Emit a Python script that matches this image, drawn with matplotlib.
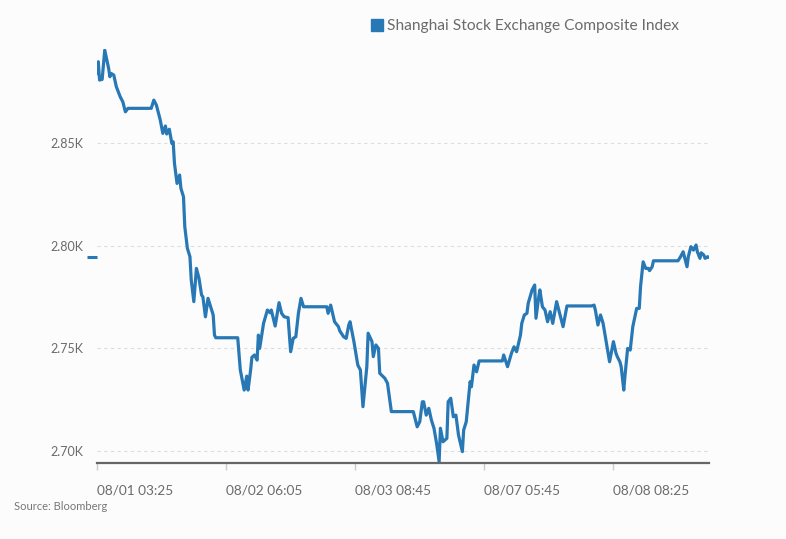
import matplotlib
matplotlib.use("Agg")
from matplotlib import pyplot as plt
from matplotlib.lines import Line2D
from matplotlib.ticker import FuncFormatter

plt.rcParams['font.family'] = ['Lato', 'DejaVu Sans']

# sample index along the (gapless) trading-time axis
sample_idx = [
    0, 1, 2, 4, 6, 9, 10, 11, 13, 15, 18, 20, 22, 24, 42, 44, 46, 49, 51, 53,
    54, 56, 58, 59, 60, 62, 64, 65, 67, 68, 70, 72, 73, 75, 77, 79, 81, 82, 84, 86,
    88, 90, 91, 92, 109, 111, 114, 116, 117, 119, 120, 122, 124, 125, 126, 129, 132, 134, 135, 138,
    141, 143, 145, 148, 150, 152, 154, 156, 158, 160, 178, 179, 181, 184, 187, 188, 191, 193, 195, 196,
    199, 202, 204, 206, 209, 210, 213, 214, 216, 218, 219, 223, 225, 228, 245, 248, 250, 252, 253, 255,
    257, 259, 261, 263, 265, 266, 268, 271, 272, 274, 276, 278, 280, 283, 284, 286, 289, 290, 292, 294,
    296, 314, 315, 318, 321, 323, 325, 328, 329, 331, 333, 334, 337, 339, 340, 342, 343, 345, 347, 349,
    351, 353, 356, 358, 360, 361, 364, 383, 385, 386, 388, 390, 392, 395, 397, 400, 402, 403, 405, 406,
    408, 409, 411, 413, 415, 418, 420, 421, 423, 425, 427, 428, 430, 431, 450, 452, 454, 457, 458, 460,
    462, 464, 465, 467, 468, 470, 471, 473, 474,
]
index_values = [
    2884.0, 2889.7, 2880.8, 2881.1, 2895.4, 2886.5, 2882.4, 2884.0, 2883.2, 2877.5, 2872.6, 2870.2, 2865.3, 2867.0, 2867.0, 2871.0, 2868.6, 2861.3, 2854.8, 2858.4,
    2854.5, 2856.8, 2849.9, 2850.7, 2840.2, 2830.4, 2834.5, 2828.0, 2823.9, 2809.3, 2798.8, 2794.7, 2783.3, 2772.8, 2789.0, 2784.2, 2776.0, 2775.2, 2765.4, 2774.4,
    2770.3, 2766.3, 2756.5, 2755.2, 2755.2, 2739.5, 2729.7, 2736.5, 2729.7, 2739.5, 2745.7, 2746.8, 2744.3, 2756.5, 2750.0, 2762.2, 2768.7, 2767.4, 2768.7, 2760.9,
    2772.3, 2767.1, 2765.4, 2765.0, 2748.4, 2754.9, 2755.7, 2767.1, 2774.4, 2770.3, 2770.3, 2767.1, 2771.1, 2763.0, 2760.6, 2758.6, 2755.7, 2754.9, 2761.4, 2763.0,
    2753.3, 2741.9, 2739.5, 2721.6, 2741.1, 2757.4, 2753.3, 2746.0, 2751.7, 2750.0, 2737.9, 2735.4, 2733.0, 2719.2, 2719.2, 2711.8, 2714.3, 2724.0, 2724.0, 2717.5,
    2720.8, 2715.1, 2711.1, 2703.8, 2694.8, 2711.1, 2704.5, 2706.2, 2724.0, 2725.7, 2716.7, 2717.5, 2707.8, 2699.7, 2710.2, 2714.3, 2733.8, 2731.3, 2741.9, 2738.6,
    2743.9, 2743.9, 2746.8, 2741.1, 2747.6, 2750.8, 2748.4, 2756.5, 2762.2, 2766.3, 2767.1, 2772.0, 2778.5, 2780.9, 2764.7, 2774.4, 2778.5, 2770.3, 2768.7, 2763.0,
    2767.9, 2762.2, 2772.8, 2767.9, 2763.0, 2760.6, 2770.7, 2770.7, 2771.1, 2768.7, 2761.4, 2766.3, 2762.2, 2750.8, 2743.5, 2753.3, 2747.6, 2746.0, 2743.5, 2741.1,
    2729.7, 2737.0, 2750.0, 2749.2, 2760.6, 2769.5, 2769.5, 2780.1, 2792.2, 2789.0, 2789.0, 2787.9, 2789.8, 2792.7, 2792.7, 2794.7, 2797.1, 2789.8, 2794.7, 2799.6,
    2797.9, 2800.4, 2797.1, 2793.9, 2796.6, 2795.5, 2793.9, 2794.7, 2794.4,
]

tick_pos = [0, 100, 200, 300, 400]
tick_labels = ["08/01 03:25", "08/02 06:05", "08/03 08:45", "08/07 05:45", "08/08 08:25"]
y_ticks = [2700, 2750, 2800, 2850]

line_color = '#2878b5'
text_color = '#6b6b6b'
bg = '#fcfcfc'

fig = plt.figure(figsize=(7.86, 5.39), dpi=100, facecolor=bg)
ax = fig.add_axes([0.1234, 0.1404, 0.7786, 0.769], facecolor=bg)

ax.plot(sample_idx, index_values, color=line_color, linewidth=2.3)

# last value marker on the y axis
ax.plot([-0.016, 0], [index_values[-1], index_values[-1]], color=line_color,
        linewidth=2.2, transform=ax.get_yaxis_transform(), clip_on=False,
        solid_capstyle='butt')

ax.set_xlim(0, 474)
ax.set_ylim(2694, 2896)

ax.set_yticks(y_ticks)
ax.yaxis.set_major_formatter(FuncFormatter(lambda v, p: f"{v / 1000:.2f}K"))
ax.set_xticks(tick_pos)
ax.set_xticklabels(tick_labels, ha='left')

ax.tick_params(axis='y', length=0, pad=10, labelsize=9, labelcolor=text_color)
ax.tick_params(axis='x', length=5, width=1, color='#cccccc', pad=10,
               labelsize=9.8, labelcolor=text_color)

ax.grid(axis='y', color='#dddddd', linestyle=(0, (3, 3)), linewidth=0.8)
ax.set_axisbelow(True)

for side in ['top', 'right', 'left']:
    ax.spines[side].set_visible(False)
ax.spines['bottom'].set_color('#666666')
ax.spines['bottom'].set_linewidth(1.6)

handle = Line2D([], [], color=line_color, marker='s', markersize=8.5, linestyle='none')
fig.legend([handle], ["Shanghai Stock Exchange Composite Index"],
           loc='center left', bbox_to_anchor=(371 / 786, 1 - 26 / 539),
           frameon=False, handlelength=0.75, handletextpad=0.3,
           fontsize=11.2, labelcolor=text_color, borderaxespad=0, borderpad=0)

fig.text(14 / 786, 1 - 506 / 539, "Source: Bloomberg", fontsize=8,
         color='#777777', va='center', ha='left')

fig.savefig("out.png", dpi=100, facecolor=bg)
